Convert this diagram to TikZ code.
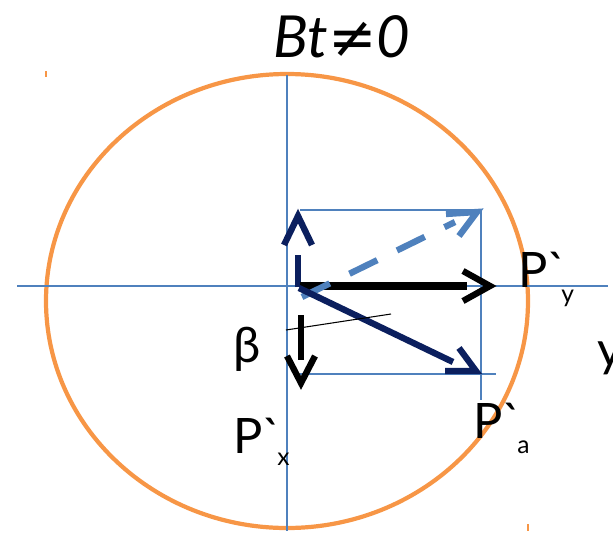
\documentclass[tikz,border=0pt]{standalone}
\usepackage{fontspec}
\setmainfont{Lato}[Ligatures=TeXOff]
\newfontfamily\symfont{DejaVu Sans}
\usetikzlibrary{calc}
\definecolor{OrbitOrange}{HTML}{F79646}
\definecolor{AxisBlue}{HTML}{4F81BD}
\definecolor{VecNavy}{HTML}{0B1F5E}
\definecolor{VecSky}{HTML}{4F81BD}
\begin{document}
\begin{tikzpicture}[x=0.02cm, y=-0.02cm, every node/.style={inner sep=0pt, font=\fontsize{27.8}{30}\selectfont}, lab/.style={anchor=base west}, sub/.style={anchor=base west, font=\fontsize{14}{16}\selectfont}, axis/.style={AxisBlue, line width=1pt}, vec/.style={line width=3.6pt, line join=miter, miter limit=20}]
\useasboundingbox (0,0) rectangle (613,535);
% orbit and axes
\draw[OrbitOrange, line width=2.4pt] (287,301) ellipse [x radius=241, y radius=227];
\draw[OrbitOrange, line width=1pt] (46,71) -- (46,77) (528,524) -- (528,531);
\coordinate (xl) at (17,286); \coordinate (xr) at (608,286);
\coordinate (yt) at (287,75); \coordinate (yb) at (287,531);
\draw[axis] (xl) -- (xr);
\draw[axis] (yt) -- (yb);
% projection box
\coordinate (bTL) at (300,210); \coordinate (bTR) at (481,210); \coordinate (bRB) at (481,400);
\coordinate (bBL) at (300,374); \coordinate (bBR) at (496,374);
\draw[axis, line width=0.8pt] (bTL) -- (bTR) -- (bRB);
\draw[axis, line width=0.8pt] (bBL) -- (bBR);
% vectors
\coordinate (upA) at (298,287); \coordinate (upB) at (298,255); \coordinate (upT) at (298,216);
\draw[vec, VecNavy] (upA) -- (upB);
\draw[vec, VecNavy] ($(upT)+(-14,29)$) -- (upT) -- ($(upT)+(14,29)$);
\coordinate (dnA) at (301,315); \coordinate (dnB) at (301,360); \coordinate (dnT) at (301,383);
\draw[vec, black] (dnA) -- (dnB);
\draw[vec, black] ($(dnT)+(-14,-27)$) -- (dnT) -- ($(dnT)+(14,-27)$);
\coordinate (hzA) at (300,286); \coordinate (hzB) at (467,286); \coordinate (hzT) at (490,286);
\draw[vec, black, line width=4.5pt] (hzA) -- (hzB);
\draw[vec, black] ($(hzT)+(-27,-15)$) -- (hzT) -- ($(hzT)+(-27,15)$);
\coordinate (dsA) at (302,297); \coordinate (dsB) at (455,222); \coordinate (dsT) at (477,212);
\draw[vec, VecSky, dash pattern=on 17.6pt off 12.5pt] (dsA) -- (dsB);
\draw[vec, VecSky] (446,214) -- (dsT) -- (459,236);
\coordinate (dgA) at (299,288); \coordinate (dgB) at (453,362); \coordinate (dgT) at (476,371);
\draw[vec, VecNavy] (dgA) -- (dgB);
\draw[vec, VecNavy] (445,371) -- (dgT) -- (459,348);
\coordinate (angA) at (286,330); \coordinate (angB) at (391,314);
\draw[black, line width=0.6pt] (angA) -- (angB);
% labels
\node[lab, font=\fontsize{33}{36}\selectfont\itshape] (title) at (273,57) {Bt{\symfont\slshape ≠}0};
\node[lab] (Py) at (518,287) {P\symbol{96}};
\node[sub] (Pysub) at (561,302) {y};
\node[lab] (Px) at (233,453) {P\symbol{96}};
\node[sub] (Pxsub) at (277,465) {x};
\node[lab] (Pa) at (473,438) {P\symbol{96}};
\node[sub] (Pasub) at (517,453) {a};
\node[lab] (beta) at (233,362) {β};
\node[lab] (yax) at (597,366) {y};
\end{tikzpicture}
\end{document}
